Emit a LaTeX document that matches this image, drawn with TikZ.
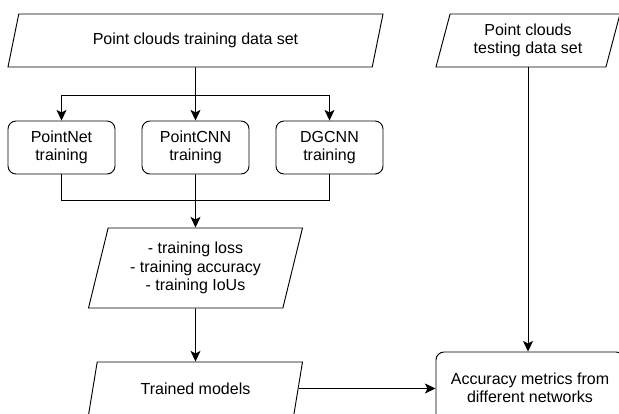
\documentclass[tikz,border=0pt]{standalone}
\usepackage{fontspec}
\setmainfont{Liberation Sans}
\usetikzlibrary{shapes.geometric,arrows.meta}
\tikzset{every node/.style={font=\fontsize{12}{13.8}\selectfont,align=center,inner sep=2pt},
    io/.style={trapezium,draw,trapezium stretches body},
    proc/.style={rectangle,draw,rounded corners=6pt,minimum width=80.25pt,minimum height=39.75pt},
    arr/.style={-{Stealth[length=8pt,width=7.5pt,inset=2pt]}}}

\begin{document}
\begin{tikzpicture}[x=0.75pt,y=-0.75pt,line width=0.7pt]
        \useasboundingbox (0,0) rectangle (619,414);
        \clip (0,0) rectangle (619,414);
        \node[io,trapezium left angle=62,trapezium right angle=118,minimum width=281.25pt,minimum height=39.75pt] (train) at (195.5,40.5) {Point clouds training data set};
        \node[io,trapezium left angle=70,trapezium right angle=110,minimum width=138pt,minimum height=39.75pt] (test) at (528,40.5) {Point clouds\\testing data set};
        \node[proc] (pnet) at (61.5,147.5) {PointNet\\training};
        \node[proc] (pcnn) at (195.5,147.5) {PointCNN\\training};
        \node[proc] (dgcnn) at (329.5,147.5) {DGCNN\\training};
        \node[io,trapezium left angle=71,trapezium right angle=109,minimum width=160.5pt,minimum height=60pt] (log) at (195.5,268) {- training loss\\- training accuracy\\- training IoUs};
        \node[io,trapezium left angle=63,trapezium right angle=117,minimum width=160.5pt,minimum height=39.75pt] (models) at (195.5,388.5) {Trained models};
        \node[proc,minimum width=141pt,minimum height=54pt] (acc) at (530,388) {Accuracy metrics from\\different networks};
        \coordinate (split) at (195.5,95);
        \coordinate (merge) at (195.5,200);
        \draw[arr] (train.south) -- (pcnn.north);
        \draw[arr] (split) -| (pnet.north);
        \draw[arr] (split) -| (dgcnn.north);
        \draw (pnet.south) |- (merge);
        \draw (dgcnn.south) |- (merge);
        \draw[arr] (pcnn.south) -- (log.north);
        \draw[arr] (log.south) -- (models.north);
        \draw[arr] (models.east) -- (models.east -| acc.west);
        \draw[arr] (test.south) -- (test.south |- acc.north);
    \end{tikzpicture}
\end{document}
